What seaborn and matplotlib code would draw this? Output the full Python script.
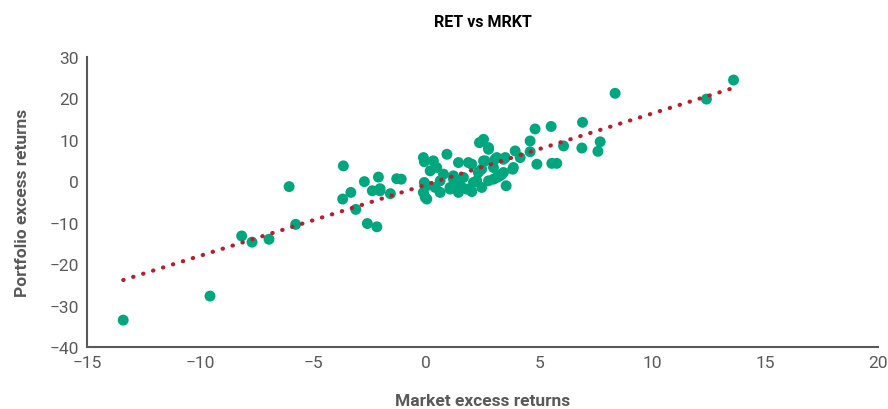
import matplotlib
matplotlib.use("Agg")
import matplotlib.pyplot as plt
import numpy as np
import pandas as pd
import seaborn as sns

# market excess returns (x) vs portfolio excess returns (y)
mrkt = [-13.4, -9.56, -8.16, -7.7, -6.95, -6.06, -5.77,
        -3.66, -3.69, -3.33, -3.11, -2.73, -2.38, -2.11, -2.04, -2.04, -1.58,
        -1.3, -1.1, -2.6, -2.18,
        -0.12, -0.08, -0.08, -0.12, 0.03, 0.03, -0.04,
        0.18, 0.47, 0.92, 0.32, 0.4, 0.62, 0.62, 0.77, 1.06, 1.06,
        1.21, 1.21, 1.43, 1.43, 1.5, 1.58, 1.65, 1.8, 1.87, 2.02, 2.02, 2.09,
        2.24, 2.31, 2.36, 2.46, 2.46, 2.54, 2.54, 2.61, 2.76, 2.76, 2.76,
        2.98, 2.98, 3.05, 3.13, 3.13, 3.27, 3.35, 3.42, 3.42, 3.5, 3.54,
        3.83, 3.86, 3.94, 4.16, 4.6, 4.6, 4.82, 4.9, 5.53, 5.56, 5.78,
        6.08, 6.89, 6.92, 7.6, 7.7, 8.36, 12.4, 13.6]
ret = [-33.5, -27.7, -13.2, -14.7, -14.0, -1.3, -10.4,
       3.7, -4.3, -2.7, -6.8, -0.1, -2.3, 1.0, -2.3, -1.8, -3.0,
       0.6, 0.5, -10.2, -11.0,
       5.7, 4.7, -0.3, -2.7, -1.1, -4.3, -3.9,
       2.5, 3.3, 6.5, 4.9, -1.5, -2.7, 0.1, 1.7, -1.5, -1.9,
       0.5, 1.3, 4.5, -2.7, -1.1, -1.5, 0.9, -1.9, 4.5, 4.1, -2.5, -0.3,
       0.1, 2.1, 9.3, 2.9, -1.5, 10.1, 4.9, 4.9, 8.1, 7.7, 0.1,
       3.3, 0.5, 5.3, 5.7, 0.9, 1.3, 1.7, 5.3, 2.1, 5.7, -1.1,
       2.9, 3.3, 7.3, 5.7, 9.7, 7.1, 12.6, 4.1, 13.2, 4.3, 4.3,
       8.5, 8.0, 14.2, 7.2, 9.5, 21.2, 19.8, 24.4]

df = pd.DataFrame({"MRKT": mrkt, "RET": ret})

green = "#00a67e"
red = "#b5202e"
grey = "#595959"

sns.set_style("white")
plt.rcParams["font.family"] = ["Roboto", "DejaVu Sans"]

fig = plt.figure(figsize=(8.88, 4.10), dpi=100)
ax = fig.add_axes([0.098, 0.151, 0.891, 0.708])

sns.scatterplot(data=df, x="MRKT", y="RET", color=green, s=62,
                edgecolor="none", ax=ax, zorder=2)
sns.regplot(data=df, x="MRKT", y="RET", scatter=False, ci=None, ax=ax,
            line_kws=dict(color=red, linewidth=3.0, linestyle=(0, (0.1, 2.4)),
                          dash_capstyle="round", zorder=3))

ax.set_xlim(-15, 20)
ax.set_ylim(-40, 30)
ax.set_xticks(np.arange(-15, 21, 5))
ax.set_yticks(np.arange(-40, 31, 10))
ax.set_xticklabels([str(v).replace("-", "\u2212") for v in range(-15, 21, 5)])
ax.set_yticklabels([str(v).replace("-", "\u2212") for v in range(-40, 31, 10)])
ax.tick_params(length=0, labelsize=12.5, labelcolor=grey, pad=6)

for side in ["top", "right"]:
    ax.spines[side].set_visible(False)
for side in ["left", "bottom"]:
    ax.spines[side].set_color(grey)
    ax.spines[side].set_linewidth(1.5)

ax.set_xlabel("Market excess returns", fontsize=12.5, fontweight="bold",
              color=grey, labelpad=16)
ax.set_ylabel("Portfolio excess returns", fontsize=12.5, fontweight="bold",
              color=grey, labelpad=14)
ax.set_title("RET vs MRKT", fontsize=11.5, fontweight="bold", color="black", pad=22)

fig.savefig("out.png", dpi=100)
